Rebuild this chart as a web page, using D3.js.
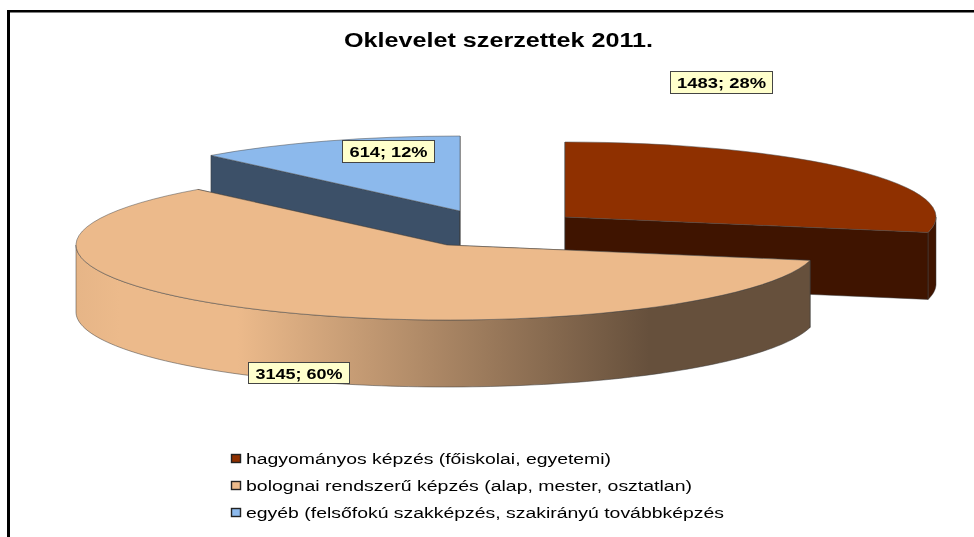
<!DOCTYPE html>
<html><head><meta charset="utf-8">
<script src="https://cdnjs.cloudflare.com/ajax/libs/d3/7.8.5/d3.min.js"></script>
<style>
html,body{margin:0;padding:0;background:#fff}
svg{display:block}
text{font-family:"Liberation Sans",Arial,sans-serif;fill:#000}
</style></head><body>
<svg id="c" width="974" height="537"></svg>
<script>
const title = "Oklevelet szerzettek 2011.";
const categories = ["hagyományos képzés (főiskolai, egyetemi)",
  "bolognai rendszerű képzés (alap, mester, osztatlan)",
  "egyéb (felsőfokú szakképzés, szakirányú továbbképzés"];
const values = [1483, 3145, 614];
const percents = [28, 60, 12];
const topColors = ["#8f3000", "#ecba8b", "#8cb9ec"];
const wallColors = ["#3f1400", "#66503c", "#3c5068"];

const W = 974, H = 537, RX = 371, RY = 75, DEPTH = 67;
const centers = [[565, 217], [447, 245], [460, 211]];
const labelBoxes = [[670, 71, 102, 22], [248, 362, 101, 21], [342, 140, 92, 22]];
const labelWidths = [89, 87, 78];
const legendY = [459, 486, 513];
const legendWidths = [365, 446, 478];

const svg = d3.select("#c");
const defs = svg.append("defs");
const grad = defs.append("linearGradient").attr("id", "rim")
  .attr("gradientUnits", "userSpaceOnUse")
  .attr("x1", 76).attr("x2", 811).attr("y1", 0).attr("y2", 0);
[[0, "#e6b587"], [0.06, "#ecba8b"], [0.22, "#ecba8b"], [0.78, "#66503c"], [1, "#66503c"]].forEach(s =>
  grad.append("stop").attr("offset", s[0]).attr("stop-color", s[1]));
const blur = defs.append("filter").attr("id", "soft");
blur.append("feGaussianBlur").attr("stdDeviation", 0.4);

// frame
svg.append("rect").attr("x", 7).attr("y", 10).attr("width", W - 7).attr("height", 2.5).attr("fill", "#000");
svg.append("rect").attr("x", 7).attr("y", 10).attr("width", 3).attr("height", H - 10).attr("fill", "#000");

svg.append("text").attr("x", 344).attr("y", 47)
  .attr("font-size", 20).attr("font-weight", "bold")
  .attr("textLength", 309).attr("lengthAdjust", "spacingAndGlyphs")
  .attr("filter", "url(#soft)").text(title);

const pie = d3.pie().sort(null).value(d => d);
const slices = pie(values);
const arc = d3.arc().innerRadius(0).outerRadius(RX);
const px = (c, a) => c[0] + RX * Math.sin(a);
const py = (c, a) => c[1] - RY * Math.cos(a);
const STROKE = "#3a3a3a";

function drawSlice(i) {
  const s = slices[i], c = centers[i];
  const g = svg.append("g");
  // cut faces
  [s.startAngle, s.endAngle].forEach(a => {
    const x = px(c, a), y = py(c, a);
    g.append("path")
      .attr("d", d3.line()([[c[0], c[1]], [x, y], [x, y + DEPTH], [c[0], c[1] + DEPTH]]) + "Z")
      .attr("fill", wallColors[i]).attr("stroke", STROKE).attr("stroke-width", 0.5);
  });
  // outer rim: only the front half of the ellipse shows
  const a0 = Math.max(s.startAngle, Math.PI / 2), a1 = Math.min(s.endAngle, 3 * Math.PI / 2);
  if (a1 > a0) {
    const angles = d3.range(0, 121).map(k => a0 + (a1 - a0) * k / 120);
    const area = d3.area().x(a => px(c, a)).y0(a => py(c, a)).y1(a => py(c, a) + DEPTH);
    g.append("path").attr("d", area(angles))
      .attr("fill", i === 1 ? "url(#rim)" : "#3f1400")
      .attr("stroke", STROKE).attr("stroke-width", 0.5);
  }
  g.append("path").attr("d", arc(s))
    .attr("transform", `translate(${c[0]},${c[1]}) scale(1,${RY / RX})`)
    .attr("fill", topColors[i]).attr("stroke", "#4a4a4a")
    .attr("stroke-width", 0.5).attr("vector-effect", "non-scaling-stroke");
}
[2, 0, 1].forEach(drawSlice);

// data labels
values.forEach((v, i) => {
  const b = labelBoxes[i];
  svg.append("rect").attr("x", b[0] + 0.5).attr("y", b[1] + 0.5).attr("width", b[2]).attr("height", b[3])
    .attr("fill", "#ffffcc").attr("stroke", "#444").attr("stroke-width", 1);
  svg.append("text").attr("x", b[0] + b[2] / 2 + 0.5).attr("y", b[1] + b[3] / 2 + 6)
    .attr("text-anchor", "middle").attr("font-size", 15).attr("font-weight", "bold")
    .attr("textLength", labelWidths[i]).attr("lengthAdjust", "spacingAndGlyphs")
    .attr("filter", "url(#soft)").text(`${v}; ${percents[i]}%`);
});

// legend
categories.forEach((t, i) => {
  svg.append("rect").attr("x", 231.5).attr("y", legendY[i] - 4.5).attr("width", 9).attr("height", 8)
    .attr("fill", topColors[i]).attr("stroke", "#222").attr("stroke-width", 1.4);
  svg.append("text").attr("x", 246).attr("y", legendY[i] + 5).attr("font-size", 15.5)
    .attr("textLength", legendWidths[i]).attr("lengthAdjust", "spacingAndGlyphs")
    .attr("filter", "url(#soft)").text(t);
});
</script></body></html>
